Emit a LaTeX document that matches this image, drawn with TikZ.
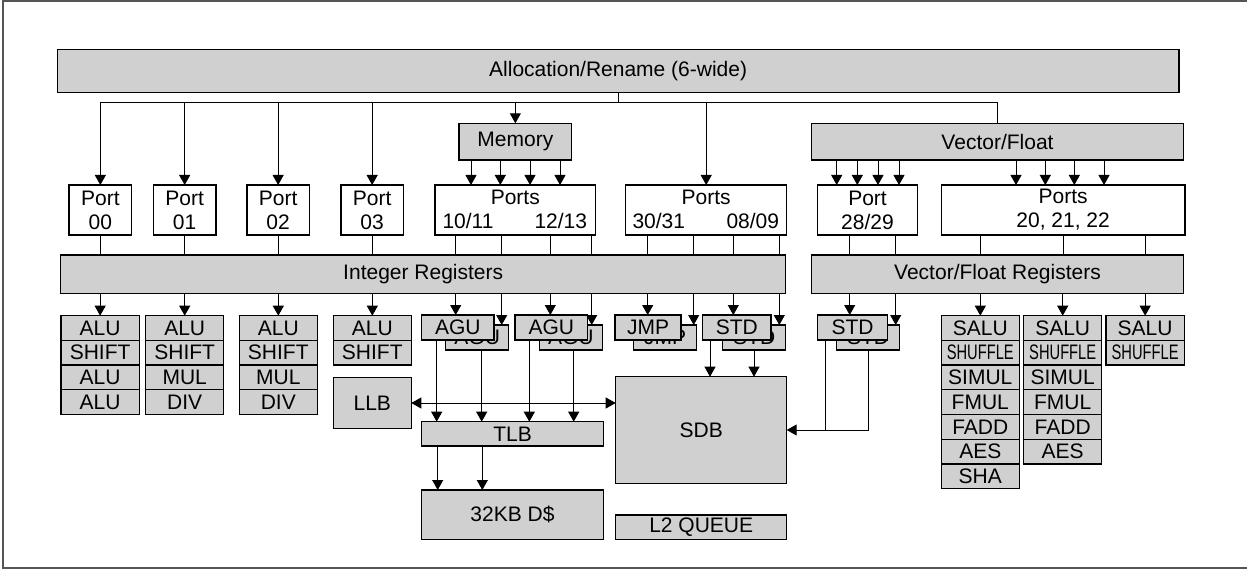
\documentclass[tikz,border=0pt]{standalone}
\usepackage{fontspec}
\usepackage{graphicx}
\setmainfont{Liberation Sans}
\usetikzlibrary{arrows.meta}
\definecolor{boxgray}{RGB}{208,208,208}
\definecolor{framegray}{RGB}{85,85,85}
% condensed label used in the vector stacks
\newcommand\shuf{\scalebox{0.7}[1]{SHUFFLE}}
% \rbox{style}{name}{x1}{y1}{x2}{y2}{text}: a rectangle node given by its corners
\newcommand\rbox[7]{%
  \pgfmathsetmacro\bxw{(#5)-(#3)}\pgfmathsetmacro\bxh{(#6)-(#4)}%
  \pgfmathsetmacro\bxcx{((#3)+(#5))/2}\pgfmathsetmacro\bxcy{((#4)+(#6))/2}%
  \node[#1,minimum width=\bxw pt,minimum height=\bxh pt] (#2) at (\bxcx,\bxcy) {#7};}
% \unitstack{name}{x1}{x2}{labels}: a column of execution units
\newcommand\unitstack[4]{%
  \foreach \t [count=\i from 0] in {#4} {%
    \rbox{box}{#1-\i}{#2}{315.7+24.7*\i}{#3}{340.4+24.7*\i}{\t}}}
\begin{document}
\begin{tikzpicture}[x=1pt,y=-1pt,
  font=\fontsize{21}{24}\selectfont,
  box/.style={draw,line width=1.3pt,fill=boxgray,inner sep=0pt,outer sep=0pt},
  wbox/.style={box,fill=white},
  txt/.style={inner sep=0pt},
  ln/.style={line width=1pt},
  arr/.style={ln,-{Triangle[length=10pt,width=11pt]}},
  biarr/.style={ln,{Triangle[length=10pt,width=11pt]}-{Triangle[length=10pt,width=11pt]}}]
\useasboundingbox (0,0) rectangle (1247,569);
% outer frame
\draw[framegray,line width=2pt] (1247,1.5) -- (3.3,1.5) -- (3.3,567.5) -- (1247,567.5);

% front end
\rbox{box}{alloc}{57.3}{49.3}{1179}{92.3}{Allocation/Rename (6-wide)}
\rbox{box}{mem}{459}{123.3}{571.7}{160}{Memory}
\rbox{box}{vf}{811.7}{123.3}{1183.3}{160}{Vector/Float}

% ports
\rbox{wbox,align=center}{p00}{69}{185}{131.7}{235}{Port\\00}
\rbox{wbox,align=center}{p01}{153.3}{185}{216}{235}{Port\\01}
\rbox{wbox,align=center}{p02}{247}{185}{309.3}{235}{Port\\02}
\rbox{wbox,align=center}{p03}{341}{185}{403.3}{235}{Port\\03}
\rbox{wbox}{pm}{435}{185}{595.7}{235}{}
\node[txt,anchor=base] (pmt) at (515.3,204.3) {Ports};
\node[txt,anchor=base west] (pma) at (442.3,228.3) {10/11};
\node[txt,anchor=base east] (pmb) at (587.3,228.3) {12/13};
\rbox{wbox}{ps}{625.7}{185}{786.7}{235}{}
\node[txt,anchor=base] (pst) at (706.2,204.3) {Ports};
\node[txt,anchor=base west] (psa) at (632.3,228.3) {30/31};
\node[txt,anchor=base east] (psb) at (779.3,228.3) {08/09};
\rbox{wbox,align=center}{p28}{817.3}{185}{917.7}{235}{Port\\28/29}
\rbox{wbox,align=center}{p20}{941.3}{185}{1185}{235}{Ports\\20, 21, 22}

% register files
\rbox{box}{ireg}{60.7}{255}{785.7}{293.3}{Integer Registers}
\rbox{box}{vreg}{811.7}{255}{1183.3}{293.3}{Vector/Float Registers}

% integer execution stacks
\unitstack{s0}{61}{139.3}{ALU,SHIFT,ALU,ALU}
\unitstack{s1}{145.7}{223.7}{ALU,SHIFT,MUL,DIV}
\unitstack{s2}{239.3}{317.3}{ALU,SHIFT,MUL,DIV}
\unitstack{s3}{333.3}{411.3}{ALU,SHIFT}

% vector execution stacks
\unitstack{v0}{941.3}{1019.3}{SALU,\shuf,SIMUL,FMUL,FADD,AES,SHA}
\unitstack{v1}{1023.7}{1101.7}{SALU,\shuf,SIMUL,FMUL,FADD,AES}
\unitstack{v2}{1106}{1184.3}{SALU,\shuf}

% paired units: the rear one first, the front one over it
\rbox{box}{agu1b}{445.7}{325}{508.7}{350}{AGU}
\rbox{box}{agu1f}{421.7}{315}{494}{340}{AGU}
\rbox{box}{agu2b}{539.3}{325}{602.3}{350}{AGU}
\rbox{box}{agu2f}{515}{315}{587.7}{340}{AGU}
\rbox{box}{jmpb}{633.7}{325}{696.3}{350}{JMP}
\rbox{box}{jmpf}{615}{315}{681}{340}{JMP}
\rbox{box}{std1b}{722.7}{325}{785.7}{350}{STD}
\rbox{box}{std1f}{702.7}{315}{771}{340}{STD}
\rbox{box}{std2b}{836.7}{325}{899.3}{350}{STD}
\rbox{box}{std2f}{817.3}{315}{887.7}{340}{STD}

% memory subsystem
\rbox{box}{llb}{333.3}{377.7}{411.3}{428.3}{LLB}
\rbox{box}{tlb}{421.7}{421.7}{603.3}{446}{TLB}
\rbox{box}{sdb}{615.7}{376.7}{786.7}{483.3}{SDB}
\rbox{box}{dc}{421.7}{490}{603.3}{539.3}{32KB D\$}
\rbox{box}{l2q}{615.7}{515}{786.7}{539.3}{L2 QUEUE}

% dispatch tree
\coordinate (trL) at (p00.north |- 0,102.7);
\coordinate (trR) at (vf.north |- 0,102.7);
\draw[ln] (alloc.south) -- (alloc.south |- trL);
\draw[ln] (trL) -- (trR) -- (vf.north);
\foreach \p in {p00,p01,p02,p03,mem,ps}
  \draw[arr] (\p.north |- trL) -- (\p.north);
\foreach \x in {471,500.3,530,560}
  \draw[arr] (\x,0 |- mem.south) -- (\x,0 |- pm.north);
\foreach \x in {836.7,857.3,878,899}
  \draw[arr] (\x,0 |- vf.south) -- (\x,0 |- p28.north);
\foreach \x in {1016,1045.3,1074.3,1104}
  \draw[arr] (\x,0 |- vf.south) -- (\x,0 |- p20.north);

% ports into register files
\foreach \p in {p00,p01,p02,p03}
  \draw[ln] (\p.south) -- (\p.south |- ireg.north);
\foreach \x in {455.7,501.7,550.3,591.7}
  \draw[ln] (\x,0 |- pm.south) -- (\x,0 |- ireg.north);
\foreach \x in {647.7,693.7,733.3,779.3}
  \draw[ln] (\x,0 |- ps.south) -- (\x,0 |- ireg.north);
\foreach \x in {849.7,895.7}
  \draw[ln] (\x,0 |- p28.south) -- (\x,0 |- vreg.north);
\foreach \x in {980.3,1063,1145.7}
  \draw[ln] (\x,0 |- p20.south) -- (\x,0 |- vreg.north);

% register files into units
\foreach \s in {s0,s1,s2,s3}
  \draw[arr] (\s-0.north |- ireg.south) -- (\s-0.north);
\foreach \x/\u in {455.7/agu1f,501.7/agu1b,550.3/agu2f,591.7/agu2b,
                   647.7/jmpf,693.7/jmpb,733.3/std1f,779.3/std1b}
  \draw[arr] (\x,0 |- ireg.south) -- (\x,0 |- \u.north);
\foreach \x/\u in {849.7/std2f,895.7/std2b}
  \draw[arr] (\x,0 |- vreg.south) -- (\x,0 |- \u.north);
\foreach \s in {v0,v1,v2}
  \draw[arr] (\s-0.north |- vreg.south) -- (\s-0.north);

% address and store data paths
\draw[biarr] (llb.east) -- (sdb.west |- llb.east);
\foreach \x/\u in {436.7/agu1f,481.7/agu1b,529.3/agu2f,573.7/agu2b}
  \draw[arr] (\x,0 |- \u.south) -- (\x,0 |- tlb.north);
\foreach \x in {437.7,482.3}
  \draw[arr] (\x,0 |- tlb.south) -- (\x,0 |- dc.north);
\draw[arr] (710,0 |- std1f.south) -- (710,0 |- sdb.north);
\draw[arr] (754,0 |- std1b.south) -- (754,0 |- sdb.north);
\coordinate (sj) at (868,0 |- sdb.east);
\draw[ln] (825.7,0 |- std2f.south) -- (825.7,0 |- sj) -- (sj);
\draw[arr] (sj |- std2b.south) -- (sj) -- (sdb.east);
\end{tikzpicture}
\end{document}
